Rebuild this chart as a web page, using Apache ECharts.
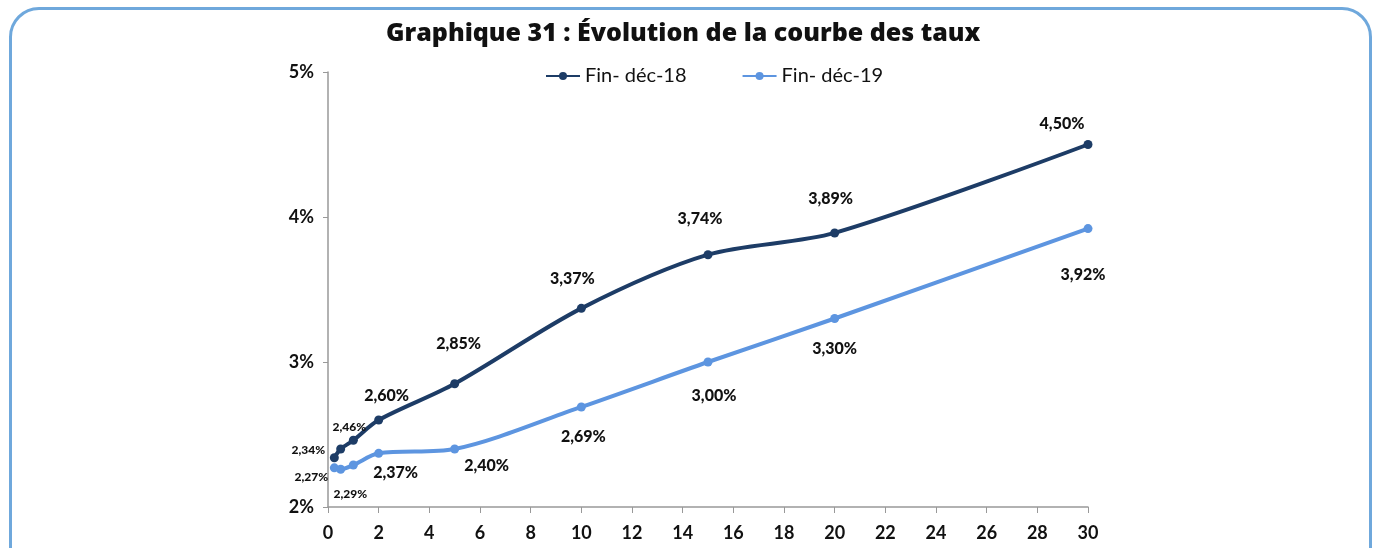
<!DOCTYPE html>
<html>
<head>
<meta charset="utf-8">
<script src="https://cdn.jsdelivr.net/npm/echarts@6/dist/echarts.min.js"></script>
<style>
  html, body { margin: 0; padding: 0; background: #ffffff; overflow: hidden; }
  #frame {
    position: absolute; left: 9px; top: 7px; width: 1363px; height: 580px;
    border: 3px solid #6fa8dc; border-radius: 30px; box-sizing: border-box;
  }
  #chart { position: absolute; left: 0; top: 0; width: 1376px; height: 548px; }
</style>
</head>
<body>
<div id="frame"></div>
<div id="chart"></div>
<script>
// Maturités (années) et taux de fin d'année
const maturities = [0.25, 0.5, 1, 2, 5, 10, 15, 20, 30];
const tauxDec18 = [2.34, 2.40, 2.46, 2.60, 2.85, 3.37, 3.74, 3.89, 4.50];
const tauxDec19 = [2.27, 2.26, 2.29, 2.37, 2.40, 2.69, 3.00, 3.30, 3.92];
const seriesNames = ['Fin- déc-18', 'Fin- déc-19'];
const titleText = 'Graphique 31 : Évolution de la courbe des taux';

// Étiquettes : décalage du centre du texte par rapport au point, null = pas d'étiquette
const labelOffsets18 = [[-26, -8], null, [-4, -13], [8, -24], [4, -40], [-9, -30], [-8, -36], [-4, -34], [-26, -21]];
const labelOffsets19 = [[-23, 9], null, [-3, 29], [17, 19], [32, 17], [2, 30], [6, 34], [0, 30], [-5, 46]];
const smallLabel = [true, false, true, false, false, false, false, false, false];

const labelFont = 'Lato, "Noto Sans", sans-serif';

function fmt(v) { return v.toFixed(2).replace('.', ',') + '%'; }

function buildData(values, offsets) {
  return maturities.map((m, i) => {
    const item = { value: [m, values[i]] };
    if (offsets[i]) {
      item.label = {
        show: true,
        position: 'inside',
        offset: offsets[i],
        formatter: fmt(values[i]),
        color: '#111',
        fontFamily: labelFont,
        fontSize: smallLabel[i] ? 12 : 16,
        fontWeight: 900
      };
    } else {
      item.label = { show: false };
    }
    return item;
  });
}

const colors = ['#1d3c66', '#5d95e0'];

const chart = echarts.init(document.getElementById('chart'), null, { renderer: 'canvas' });
chart.setOption({
  backgroundColor: 'transparent',
  animation: false,
  title: {
    text: titleText,
    left: 381,
    top: 16,
    textStyle: { fontFamily: '"Open Sans", Lato, sans-serif', fontWeight: 800, fontSize: 25, color: '#111' }
  },
  legend: {
    top: 61,
    left: 540,
    itemGap: 55,
    itemWidth: 34,
    itemHeight: 10,
    textStyle: { fontFamily: labelFont, fontSize: 20, color: '#111' },
    data: seriesNames
  },
  grid: { left: 328, right: 288, top: 72, bottom: 41, containLabel: false },
  xAxis: {
    type: 'value',
    min: 0, max: 30, interval: 2,
    axisLine: { lineStyle: { color: '#999', width: 1.5 } },
    axisTick: { show: true, length: 6, lineStyle: { color: '#999' } },
    axisLabel: { fontFamily: labelFont, fontSize: 18, fontWeight: 'bold', color: '#111', margin: 17 },
    splitLine: { show: false }
  },
  yAxis: {
    type: 'value',
    min: 2, max: 5, interval: 1,
    axisLine: { show: true, lineStyle: { color: '#999', width: 1.5 } },
    axisTick: { show: true, length: 5, lineStyle: { color: '#999' } },
    axisLabel: { formatter: '{value}%', fontFamily: labelFont, fontSize: 18, fontWeight: 'bold', color: '#111', margin: 14 },
    splitLine: { show: false }
  },
  series: [
    {
      name: seriesNames[0], type: 'line', smooth: 0.3,
      data: buildData(tauxDec18, labelOffsets18),
      symbol: 'circle', symbolSize: 9,
      itemStyle: { color: colors[0] },
      lineStyle: { color: colors[0], width: 4 },
      z: 3
    },
    {
      name: seriesNames[1], type: 'line', smooth: 0.3,
      data: buildData(tauxDec19, labelOffsets19),
      symbol: 'circle', symbolSize: 9,
      itemStyle: { color: colors[1] },
      lineStyle: { color: colors[1], width: 4 },
      z: 2
    }
  ]
});
</script>
</body>
</html>
